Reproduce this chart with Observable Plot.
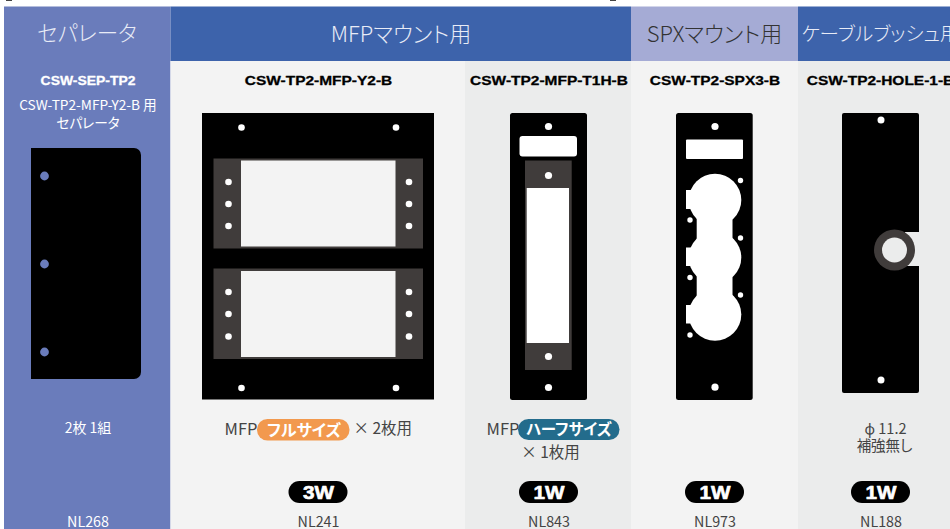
<!DOCTYPE html>
<html>
<head>
<meta charset="utf-8">
<script src="https://cdn.jsdelivr.net/npm/d3@7"></script>
<script src="https://cdn.jsdelivr.net/npm/@observablehq/plot@0.6"></script>
<style>
html,body{margin:0;padding:0;background:#fff;overflow:hidden}
svg{display:block;font-feature-settings:"palt"}
</style>
</head>
<body>
<div id="chart"></div>
<script>
const sans = "'Noto Sans CJK JP','Noto Sans',sans-serif";
const wide = "'Liberation Sans',Arial,sans-serif";

const BLACK = "#000", DARK = "#403c3b", WHITE = "#fff", PALE = "#f3f3f3", GREY = "#ebecec", SEP = "#6a7cbb";

// column bands
const bands = [
  {x1:4, x2:170.5, y1:6.5, y2:529, fill:SEP},
  {x1:170.5, x2:465, y1:61, y2:529, fill:PALE},
  {x1:465, x2:631, y1:61, y2:529, fill:GREY},
  {x1:631, x2:798, y1:61, y2:529, fill:PALE},
  {x1:798, x2:950, y1:61, y2:529, fill:GREY},
  {x1:170.5, x2:631, y1:6.5, y2:61, fill:"#3d63ab"},
  {x1:631, x2:798, y1:6.5, y2:61, fill:"#a5abd5"},
  {x1:798, x2:950, y1:6.5, y2:61, fill:"#3d63ab"},
  {x1:6, x2:12, y1:0, y2:1, fill:"#444"},
  {x1:610, x2:616, y1:0, y2:1, fill:"#444"}
];
const headerTexts = [
  {x:86.5, y:34, t:"セパレータ", fill:"#e8ebf6", size:21.5},
  {x:400.5, y:34, t:"MFPマウント用", fill:"#e8ebf6", size:22},
  {x:714, y:34, t:"SPXマウント用", fill:"#333", size:22},
  {x:880, y:34, t:"ケーブルブッシュ用", fill:"#e8ebf6", size:19.5}
];
const separatorModel = [{x:87.5, t:"CSW-SEP-TP2", fill:"#fff"}];
const modelTexts = [
  {x:318, t:"CSW-TP2-MFP-Y2-B", fill:"#000"},
  {x:548.5, t:"CSW-TP2-MFP-T1H-B", fill:"#000"},
  {x:714.5, t:"CSW-TP2-SPX3-B", fill:"#000"},
  {x:880, t:"CSW-TP2-HOLE-1-B", fill:"#000"}
];

// plate outlines, then panels and cut-outs, in drawing order
const shapes = [
  {x1:31, x2:80, y1:148, y2:379, fill:BLACK, r:0},
  {x1:60, x2:141, y1:148, y2:379, fill:BLACK, r:7},
  {x1:202, x2:434, y1:113, y2:399.5, fill:BLACK, r:0},
  {x1:510, x2:587, y1:113, y2:400, fill:BLACK, r:2.5},
  {x1:676, x2:752.7, y1:113, y2:400, fill:BLACK, r:2.5},
  {x1:842, x2:919, y1:113, y2:393, fill:BLACK, r:2},
  {x1:213.5, x2:423, y1:158.5, y2:248.5, fill:DARK, r:0},
  {x1:241, x2:395.5, y1:160.5, y2:246.5, fill:PALE, r:0},
  {x1:213.5, x2:423, y1:268.5, y2:359, fill:DARK, r:0},
  {x1:241, x2:395.5, y1:271, y2:357, fill:PALE, r:0},
  {x1:519.5, x2:577, y1:136, y2:156.5, fill:WHITE, r:3},
  {x1:525, x2:571.7, y1:160.5, y2:370, fill:DARK, r:0},
  {x1:526.7, x2:569, y1:188, y2:343, fill:WHITE, r:0},
  {x1:686, x2:743, y1:139.5, y2:159, fill:WHITE, r:1},
  {x1:686, x2:705, y1:190, y2:209, fill:WHITE, r:0},
  {x1:686, x2:705, y1:247.5, y2:266, fill:WHITE, r:0},
  {x1:686, x2:705, y1:305, y2:323.5, fill:WHITE, r:0},
  {x1:696.7, x2:732.5, y1:210, y2:305, fill:WHITE, r:0},
  {x1:905, x2:919, y1:232, y2:266, fill:GREY, r:0}
];
// cable-bush ring and SPX round openings
const rounds = [
  {x:714.5, y:199.5, r:26.3, fill:WHITE},
  {x:714.5, y:257, r:26.3, fill:WHITE},
  {x:714.5, y:314, r:26.3, fill:WHITE},
  {x:894, y:249.5, r:20.5, fill:DARK},
  {x:894, y:249.5, r:12.5, fill:GREY}
];
// fixing holes
const holesSep = [[44,175.5],[44,263.5],[44,351.5]];
const holesMfp = [[241,127],[395.5,127],[241,387.5],[395.5,387.5],
  [228,181.5],[228,203.5],[228,225.5],[408.5,181.5],[408.5,203.5],[408.5,225.5],
  [228,291.5],[228,313.5],[228,336],[408.5,291.5],[408.5,313.5],[408.5,336]];
const holesHalf = [[548,126],[548,387],[548,175],[548,356]];
const holesSpx = [[714.5,126],[714.5,386.7]];
const holesSpxSmall = [[740,180],[740,237.5],[740,294.5],[689.5,219.5],[689.5,277],[689.5,334.5]];
const holesHole = [[880.5,119.5],[880.5,379.5]];

const sideTexts = [
  {x:87.5, y:105, t:"CSW-TP2-MFP-Y2-B 用"},
  {x:87.5, y:123, t:"セパレータ"}
];
const sizePills = [
  {x1:257, x2:349.5, y1:419, y2:440.5, fill:"#f2994e"},
  {x1:518, x2:619.5, y1:419, y2:440, fill:"#236c8c"}
];
const sizeTexts = [
  {x:303.5, y:430, t:"フルサイズ", size:16},
  {x:568.5, y:429.5, t:"ハーフサイズ", size:15.5}
];
const mfpNotes = [
  {x:224, y:429, t:"MFP"},
  {x:486, y:429, t:"MFP"}
];
const countStart = [{x:353, y:429, t:"× 2枚用"}];
const countMiddle = [{x:550, y:453, t:"× 1枚用"}];
const holeNotes = [
  {x:885, y:429, t:"ϕ 11.2"},
  {x:884, y:446, t:"補強無し"}
];
const widths = [
  {x:318, t:"3W"},
  {x:548.5, t:"1W"},
  {x:714.5, t:"1W"},
  {x:880.5, t:"1W"}
];
const nlCodes = [
  {x:87.5, t:"NL268", fill:"#fff"},
  {x:318, t:"NL241", fill:"#444"},
  {x:548.5, t:"NL843", fill:"#444"},
  {x:714.5, t:"NL973", fill:"#444"},
  {x:880.5, t:"NL188", fill:"#444"}
];

const holes = (arr, r, fill) => Plot.dot(arr, {x:d=>d[0], y:d=>d[1], r, fill, stroke:null});

const plot = Plot.plot({
  width:950, height:529, margin:0,
  style:{background:"#fff", fontFamily:sans},
  x:{domain:[0,950], range:[0,950], axis:null},
  y:{domain:[0,529], range:[0,529], axis:null},
  color:{type:"identity"},
  r:{type:"identity"},
  marks:[
    Plot.rect(bands, {x1:"x1", x2:"x2", y1:"y1", y2:"y2", fill:"fill"}),
    ...shapes.map(d => Plot.rect([d], {x1:"x1", x2:"x2", y1:"y1", y2:"y2", fill:"fill", rx:d.r, ry:d.r})),
    Plot.dot(rounds, {x:"x", y:"y", r:"r", fill:"fill", stroke:null}),
    holes(holesSep, 4.4, SEP),
    holes(holesMfp, 3.3, WHITE),
    holes(holesHalf, 3.6, WHITE),
    holes(holesSpx, 3.6, WHITE),
    holes(holesSpxSmall, 2.7, WHITE),
    holes(holesHole, 3.5, WHITE),
    Plot.text(headerTexts, {x:"x", y:"y", text:"t", fill:"fill", fontSize:"size", fontWeight:300}),
    Plot.text(separatorModel, {x:"x", y:80, text:"t", fill:"fill", fontFamily:wide, fontWeight:700, fontSize:13, stroke:"fill", strokeWidth:0.3}),
    Plot.text(modelTexts, {x:"x", y:80, text:"t", fill:"fill", fontFamily:wide, fontWeight:700, fontSize:13, stroke:"fill", strokeWidth:0.3}),
    Plot.text(sideTexts, {x:"x", y:"y", text:"t", fill:"#fff", fontSize:13.7}),
    Plot.text(["2枚 1組"], {x:87.5, y:428, text:d=>d, fill:"#fff", fontSize:14}),
    Plot.rect(sizePills, {x1:"x1", x2:"x2", y1:"y1", y2:"y2", fill:"fill", rx:10.5, ry:10.5}),
    Plot.text(sizeTexts, {x:"x", y:"y", text:"t", fill:"#fff", fontSize:"size", fontWeight:700}),
    Plot.text(mfpNotes, {x:"x", y:"y", text:"t", fill:"#444", fontSize:16.5, textAnchor:"start"}),
    Plot.text(countStart, {x:"x", y:"y", text:"t", fill:"#444", fontSize:15.5, textAnchor:"start"}),
    Plot.text(countMiddle, {x:"x", y:"y", text:"t", fill:"#444", fontSize:15.5}),
    Plot.text(holeNotes, {x:"x", y:"y", text:"t", fill:"#444", fontSize:14.5}),
    Plot.rect(widths, {x1:d=>d.x-29.5, x2:d=>d.x+29.5, y1:481, y2:503, fill:"#000", rx:11, ry:11}),
    Plot.text(widths, {x:"x", y:492.5, text:"t", fill:"#fff", stroke:"#fff", strokeWidth:0.6, fontFamily:wide, fontWeight:700, fontSize:18}),
    Plot.text(nlCodes, {x:"x", y:522, text:"t", fill:"fill", fontSize:14.3})
  ]
});
document.getElementById("chart").append(plot);
// the reference's bold Latin face is extended: stretch the glyphs horizontally
const stretch = (labels, k) => plot.querySelectorAll("text").forEach(t => {
  if (!labels.includes(t.textContent)) return;
  t.setAttribute("textLength", (t.getComputedTextLength() * k).toFixed(1));
  t.setAttribute("lengthAdjust", "spacingAndGlyphs");
});
stretch(separatorModel.map(d => d.t), 1.07);
stretch(modelTexts.map(d => d.t), 1.19);
stretch(widths.map(d => d.t), 1.15);
</script>
</body>
</html>
